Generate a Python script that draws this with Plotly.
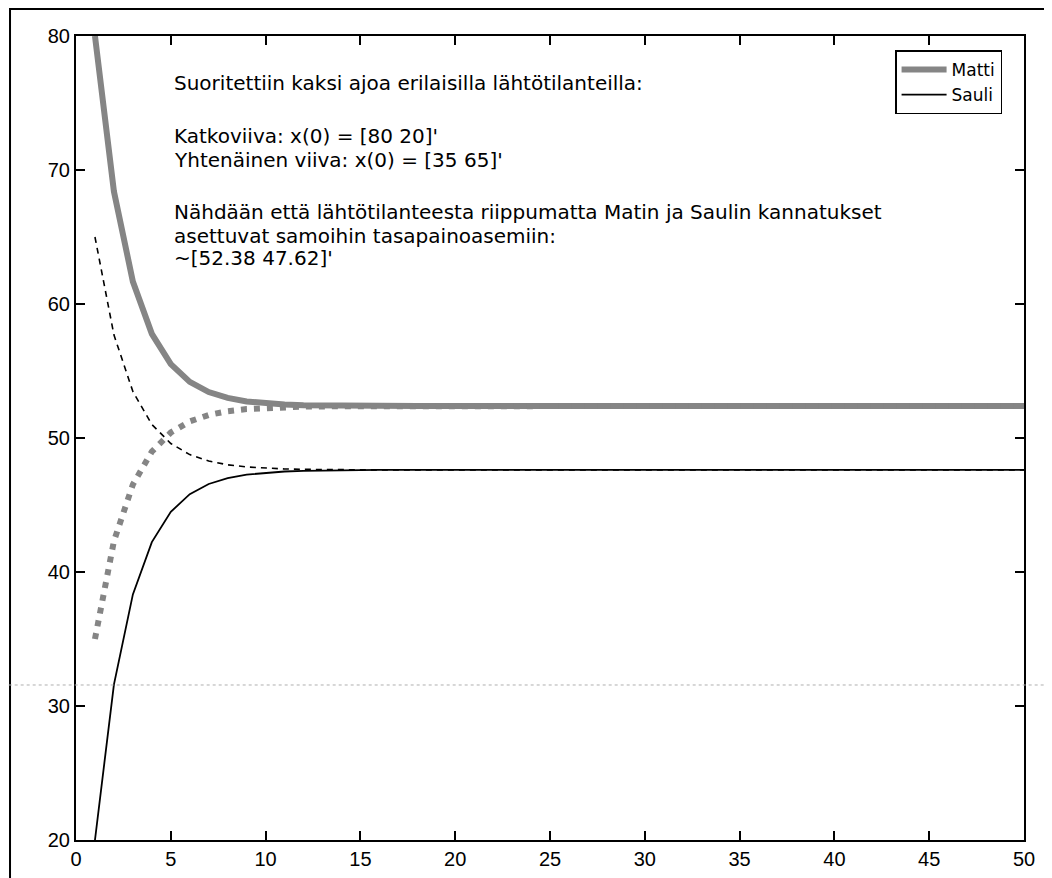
import plotly.graph_objects as go

# time steps
t = list(range(1, 51))

# Run A: x(0) = [80 20]  (solid lines)
matti_a = [80.00, 68.40, 61.67, 57.77, 55.51, 54.19, 53.43, 52.99, 52.73, 52.59,
           52.50, 52.45, 52.42, 52.40, 52.39, 52.38, 52.38, 52.38, 52.38, 52.38,
           52.38, 52.38, 52.38, 52.38, 52.38, 52.38, 52.38, 52.38, 52.38, 52.38,
           52.38, 52.38, 52.38, 52.38, 52.38, 52.38, 52.38, 52.38, 52.38, 52.38,
           52.38, 52.38, 52.38, 52.38, 52.38, 52.38, 52.38, 52.38, 52.38, 52.38]
sauli_a = [20.00, 31.60, 38.33, 42.23, 44.49, 45.81, 46.57, 47.01, 47.27, 47.41,
           47.50, 47.55, 47.58, 47.60, 47.61, 47.62, 47.62, 47.62, 47.62, 47.62,
           47.62, 47.62, 47.62, 47.62, 47.62, 47.62, 47.62, 47.62, 47.62, 47.62,
           47.62, 47.62, 47.62, 47.62, 47.62, 47.62, 47.62, 47.62, 47.62, 47.62,
           47.62, 47.62, 47.62, 47.62, 47.62, 47.62, 47.62, 47.62, 47.62, 47.62]

# Run B: x(0) = [35 65]  (dotted / dashed lines)
matti_b = [35.00, 42.30, 46.53, 48.99, 50.41, 51.24, 51.72, 52.00, 52.16, 52.25,
           52.31, 52.34, 52.36, 52.37, 52.37, 52.38, 52.38, 52.38, 52.38, 52.38,
           52.38, 52.38, 52.38, 52.38, 52.38, 52.38, 52.38, 52.38, 52.38, 52.38,
           52.38, 52.38, 52.38, 52.38, 52.38, 52.38, 52.38, 52.38, 52.38, 52.38,
           52.38, 52.38, 52.38, 52.38, 52.38, 52.38, 52.38, 52.38, 52.38, 52.38]
sauli_b = [65.00, 57.70, 53.47, 51.01, 49.59, 48.76, 48.28, 48.00, 47.84, 47.75,
           47.69, 47.66, 47.64, 47.63, 47.63, 47.62, 47.62, 47.62, 47.62, 47.62,
           47.62, 47.62, 47.62, 47.62, 47.62, 47.62, 47.62, 47.62, 47.62, 47.62,
           47.62, 47.62, 47.62, 47.62, 47.62, 47.62, 47.62, 47.62, 47.62, 47.62,
           47.62, 47.62, 47.62, 47.62, 47.62, 47.62, 47.62, 47.62, 47.62, 47.62]

x_ticks = [0, 5, 10, 15, 20, 25, 30, 35, 40, 45, 50]
y_ticks = [20, 30, 40, 50, 60, 70, 80]

text_lines = [
    "Suoritettiin kaksi ajoa erilaisilla lähtötilanteilla:",
    "Katkoviiva: x(0) = [80 20]'",
    "Yhtenäinen viiva: x(0) = [35 65]'",
    "Nähdään että lähtötilanteesta riippumatta Matin ja Saulin kannatukset",
    "asettuvat samoihin tasapainoasemiin:",
    "~[52.38 47.62]'",
]
text_y = [76.5, 72.55, 70.75, 66.9, 65.1, 63.4]

FONT = "Liberation Sans, Arial, sans-serif"
TFONT = "DejaVu Sans, Liberation Sans, sans-serif"
GRAY = "#858585"

fig = go.Figure()
fig.add_trace(go.Scatter(x=t, y=matti_a, mode="lines", name="Matti",
                         line=dict(color=GRAY, width=6)))
fig.add_trace(go.Scatter(x=t, y=sauli_a, mode="lines", name="Sauli",
                         line=dict(color="black", width=1.8)))
fig.add_trace(go.Scatter(x=t, y=matti_b, mode="lines", showlegend=False,
                         line=dict(color=GRAY, width=6, dash="6px,7px")))
fig.add_trace(go.Scatter(x=t, y=sauli_b, mode="lines", showlegend=False,
                         line=dict(color="black", width=1.6, dash="6px,5px")))

for txt, yy in zip(text_lines, text_y):
    fig.add_annotation(x=5.05, y=yy, xref="x", yref="y", text=txt,
                       showarrow=False, xanchor="left", yanchor="middle",
                       font=dict(family=TFONT, size=20, color="black"))

axis_common = dict(showline=True, linecolor="black", linewidth=2, mirror="ticks",
                   ticks="inside", ticklen=9, tickwidth=1.5, tickcolor="black",
                   showgrid=False, zeroline=False, automargin=False,
                   tickfont=dict(family=FONT, size=20, color="black"))

fig.update_xaxes(range=[0, 50], tickmode="array", tickvals=x_ticks, **axis_common)
fig.update_yaxes(range=[20, 80], tickmode="array", tickvals=y_ticks, **axis_common)

# outer frame of the scanned page and faint scan line
fig.add_shape(type="rect", xref="paper", yref="paper",
              x0=-0.0696, x1=1.3, y0=-0.3, y1=1.0336,
              line=dict(color="black", width=2), fillcolor="rgba(0,0,0,0)")
fig.add_shape(type="line", xref="paper", yref="paper",
              x0=-0.09, x1=1.05, y0=0.1928, y1=0.1928,
              line=dict(color="#b0b0b0", width=1, dash="dot"))

fig.update_layout(
    width=1044, height=870,
    margin=dict(l=68, r=28, t=28, b=38, autoexpand=False),
    paper_bgcolor="white", plot_bgcolor="white",
    font=dict(family=FONT, size=20, color="black"),
    legend=dict(x=0.864, y=0.982, xanchor="left", yanchor="top",
                bgcolor="white", bordercolor="black", borderwidth=1.5,
                font=dict(family=TFONT, size=17, color="black"),
                tracegroupgap=0, itemwidth=45),
    showlegend=True,
)

fig.write_html("out.html")
